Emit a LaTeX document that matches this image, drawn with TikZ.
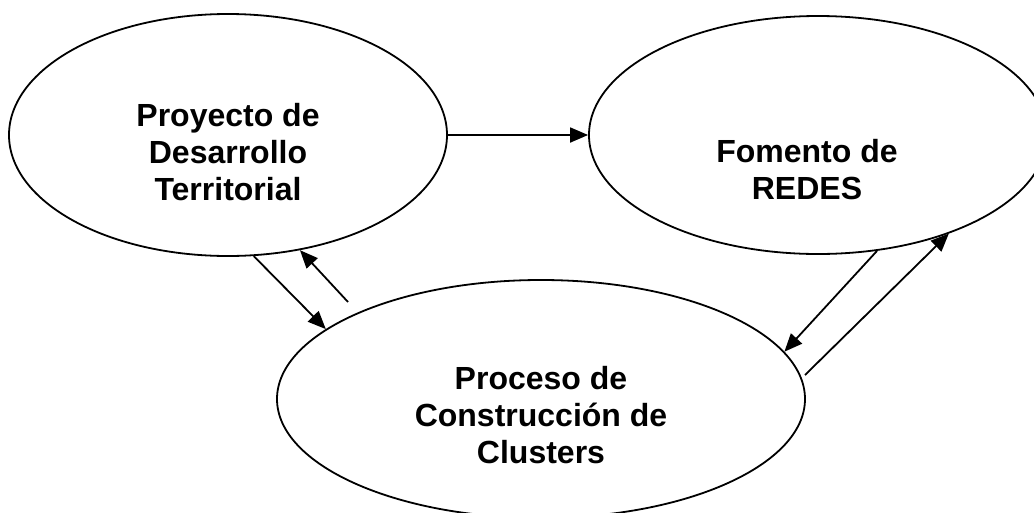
\documentclass[tikz,border=0pt]{standalone}
\usepackage{fontspec}
\setmainfont{Liberation Sans}
\usetikzlibrary{shapes.geometric,arrows.meta}
\begin{document}
\begin{tikzpicture}[x=1pt,y=-1pt,
  ell/.style={ellipse,draw=black,line width=1.8pt,inner sep=0pt,fill=white},
  txt/.style={align=center,font=\bfseries\fontsize{32}{37}\selectfont,inner sep=0pt},
  arr/.style={line width=1.8pt,-{Triangle[length=18pt,width=15pt]}}]
\useasboundingbox (0,0) rectangle (1034,512);
\clip (0,0) rectangle (1034,512);
\node[ell,minimum width=438pt,minimum height=242pt] (L) at (228,135) {};
\node[ell,minimum width=458pt,minimum height=238pt] (R) at (818,135) {};
\node[ell,minimum width=528pt,minimum height=238pt] (B) at (541,399) {};
\node[txt] (Lt) at ([yshift=-17pt]L.center) {Proyecto de\\Desarrollo\\Territorial};
\node[txt] (Rt) at ([xshift=-11pt,yshift=-35pt]R.center) {Fomento de\\REDES};
\node[txt] (Bt) at ([yshift=-16pt]B.center) {Proceso de\\Construcción de\\Clusters};
\coordinate (s2) at (348,302);
\coordinate (s4) at (805,375);
\draw[arr] (L.east) -- (R.west);
\draw[arr] (L.-78) -- (B.162);
\draw[arr] (s2) -- (L.-58);
\draw[arr] (R.-63) -- (B.11.5);
\draw[arr] (s4) -- (R.-37);
\end{tikzpicture}
\end{document}
